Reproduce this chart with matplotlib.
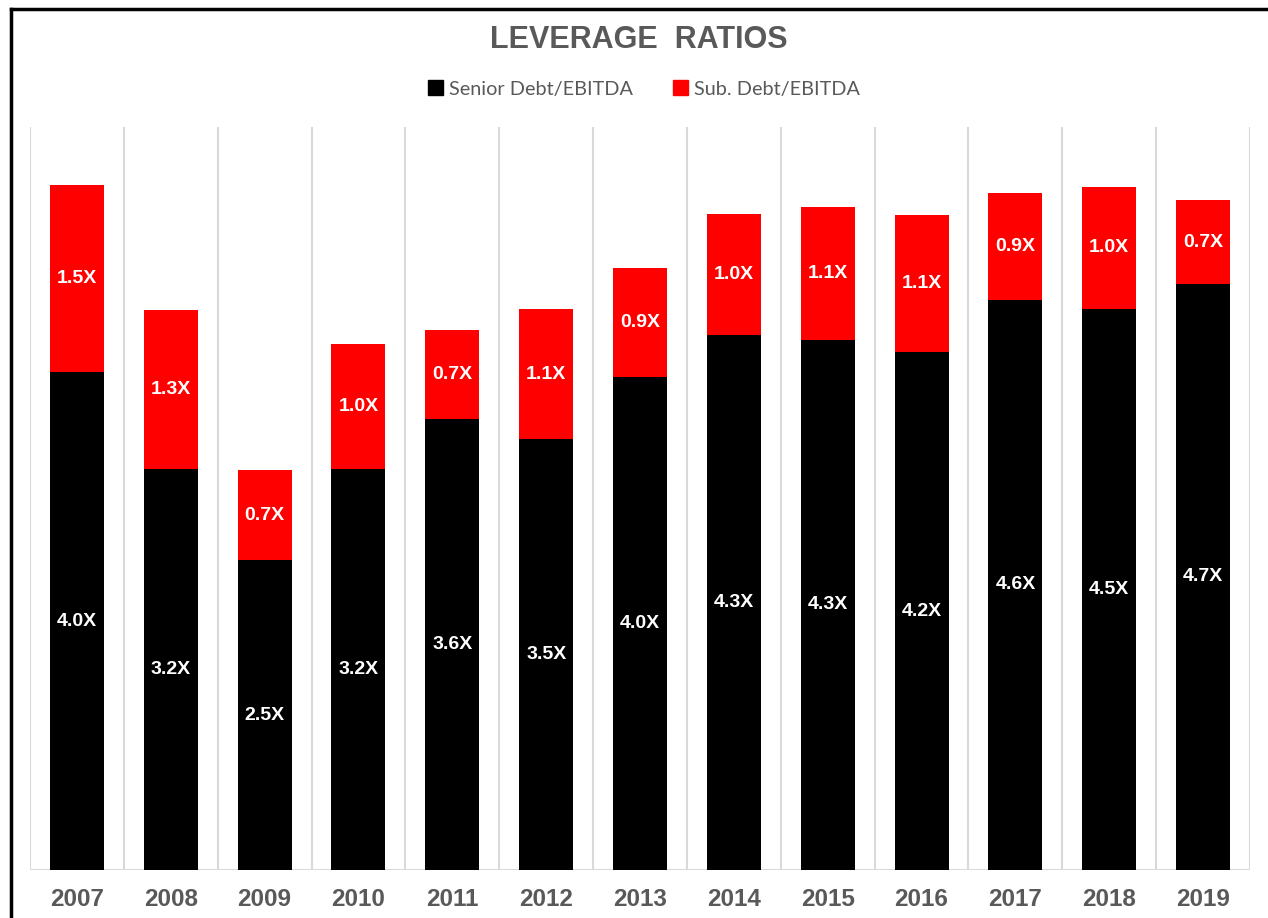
import matplotlib
matplotlib.use("Agg")
import matplotlib.pyplot as plt
from matplotlib.lines import Line2D
from matplotlib.patches import Patch
import numpy as np

years = ["2007", "2008", "2009", "2010", "2011", "2012", "2013",
         "2014", "2015", "2016", "2017", "2018", "2019"]
senior = [4.0, 3.22, 2.49, 3.22, 3.62, 3.46, 3.96, 4.30, 4.26, 4.16, 4.58, 4.51, 4.71]
sub = [1.5, 1.28, 0.72, 1.01, 0.72, 1.05, 0.88, 0.97, 1.07, 1.10, 0.86, 0.98, 0.67]

W, H = 1268, 918
fig = plt.figure(figsize=(W / 100, H / 100), dpi=100)
fig.patch.set_facecolor("white")

ax = fig.add_axes([30 / W, (H - 870) / H, (1250 - 30) / W, (870 - 127) / H])
x = np.arange(len(years))
bw = 0.575
ax.bar(x, senior, width=bw, color="black", zorder=3)
ax.bar(x, sub, width=bw, bottom=senior, color="#ff0000", zorder=3)

lab_font = dict(family="Liberation Sans", weight="bold", size=14, color="white")
for i in range(len(years)):
    ax.text(x[i], senior[i] / 2, f"{senior[i]:.1f}X", ha="center", va="center", zorder=4, **lab_font)
    ax.text(x[i], senior[i] + sub[i] / 2, f"{sub[i]:.1f}X", ha="center", va="center", zorder=4, **lab_font)

ax.set_xlim(-0.5, len(years) - 0.5)
ax.set_ylim(0, 5.97)
for b in np.arange(-0.5, len(years), 1.0):
    ax.axvline(b, color="#d9d9d9", lw=1.5, zorder=1)
ax.axhline(0, color="#d9d9d9", lw=1.5, zorder=2)
for s in ax.spines.values():
    s.set_visible(False)
ax.set_yticks([])
ax.set_xticks(x)
ax.set_xticklabels(years, family="Liberation Sans", weight="bold", size=17.5, color="#595959")
ax.tick_params(axis="x", length=0, pad=13)

fig.text(639 / W, 1 - 40 / H, "LEVERAGE  RATIOS", ha="center", va="center",
         family="Liberation Sans", weight="bold", size=22, color="#595959")

handles = [Patch(facecolor="black", edgecolor="black"), Patch(facecolor="#ff0000", edgecolor="#ff0000")]
leg = fig.legend(handles, ["Senior Debt/EBITDA", "Sub. Debt/EBITDA"], loc="center",
                 bbox_to_anchor=(644 / W, 1 - 89 / H), ncol=2, frameon=False,
                 handlelength=0.75, handleheight=0.75, handletextpad=0.3, columnspacing=2.0,
                 prop=dict(family="Lato", size=14.3))
for t in leg.get_texts():
    t.set_color("#595959")

# border lines top and left
fig.add_artist(Line2D([10.5 / W, 1.0], [1 - 8.5 / H, 1 - 8.5 / H], color="black", lw=2.5))
fig.add_artist(Line2D([10.5 / W, 10.5 / W], [0, 1 - 8.5 / H], color="black", lw=2.5))

fig.savefig("out.png", dpi=100, facecolor="white")
